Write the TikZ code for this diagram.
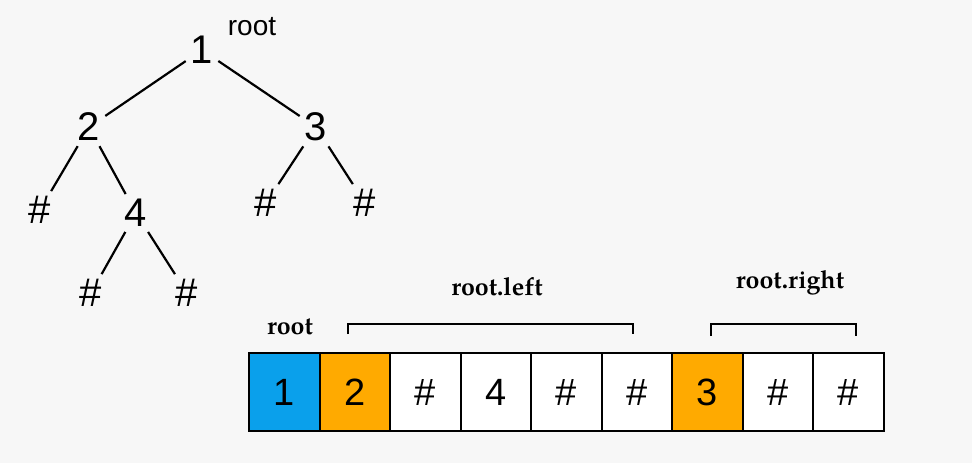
\documentclass[tikz,border=0pt]{standalone}
\usepackage{fontspec}
\setmainfont{Liberation Sans}
\newfontfamily\lblfont{TeX Gyre Pagella}
\begin{document}
\begin{tikzpicture}[x=1pt,y=-1pt,
  tn/.style={font=\fontsize{40}{40}\selectfont,inner sep=5pt},
  ed/.style={line width=2.2pt},
  cell/.style={draw,line width=2.2pt,minimum width=70.5pt,minimum height=78pt,inner sep=0pt,font=\fontsize{38}{38}\selectfont},
  lbl/.style={font=\lblfont\bfseries\fontsize{25}{25}\selectfont},
  br/.style={line width=1.8pt}]
\fill[white!97!black] (0,0) rectangle (972,463);
\node[tn] (n1) at (202,50) {1};
\node[font=\fontsize{28}{28}\selectfont] (rl) at (252,27) {root};
\node[tn] (n2) at (89,127) {2};
\node[tn] (n3) at (316,127) {3};
\node[tn] (h1) at (40,210) {\#};
\node[tn] (n4) at (136,213) {4};
\node[tn] (h2) at (266,203) {\#};
\node[tn] (h3) at (365,203) {\#};
\node[tn] (h4) at (91,293) {\#};
\node[tn] (h5) at (187,293) {\#};
\draw[ed] (n1) -- (n2); \draw[ed] (n1) -- (n3);
\draw[ed] (n2) -- (h1); \draw[ed] (n2) -- (n4);
\draw[ed] (n3) -- (h2); \draw[ed] (n3) -- (h3);
\draw[ed] (n4) -- (h4); \draw[ed] (n4) -- (h5);
\node[cell,fill={rgb,255:red,10;green,160;blue,235}] (c1) at (284.5,392) {1};
\node[cell,fill={rgb,255:red,255;green,170;blue,0}] (c2) at (355,392) {2};
\node[cell,fill=white] (c3) at (425.5,392) {\#};
\node[cell,fill=white] (c4) at (496,392) {4};
\node[cell,fill=white] (c5) at (566.5,392) {\#};
\node[cell,fill=white] (c6) at (637,392) {\#};
\node[cell,fill={rgb,255:red,255;green,170;blue,0}] (c7) at (707.5,392) {3};
\node[cell,fill=white] (c8) at (778,392) {\#};
\node[cell,fill=white] (c9) at (848.5,392) {\#};
\node[lbl] (lr) at (290,327) {root};
\node[lbl] (ll) at (497,287) {root.left};
\node[lbl] (lrr) at (790,283) {root.right};
\draw[br] (348,334) -- (348,324) -- (633,324) -- (633,334);
\draw[br] (711,336) -- (711,324) -- (856,324) -- (856,336);
\end{tikzpicture}
\end{document}
